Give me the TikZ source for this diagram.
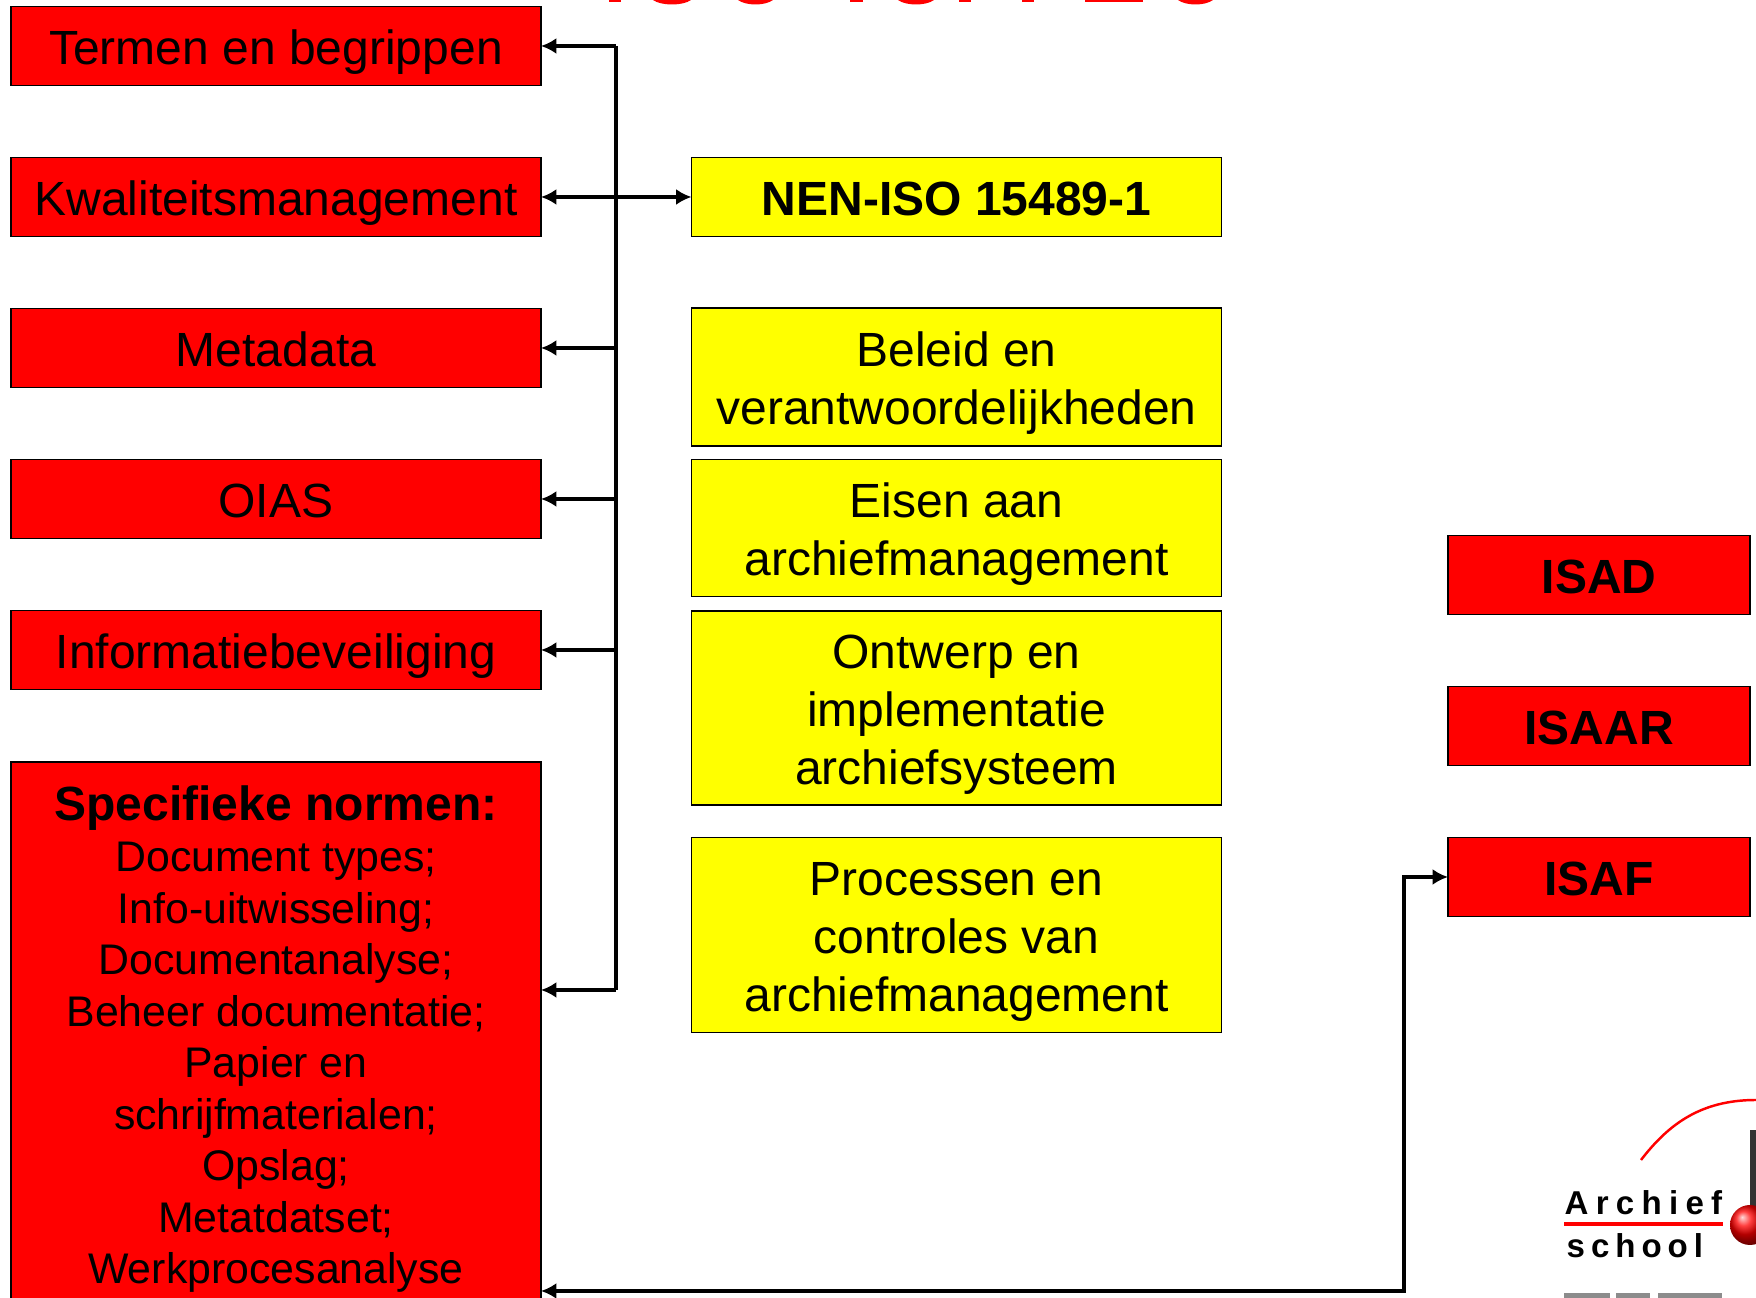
\documentclass[tikz,border=0pt]{standalone}
\usepackage{fontspec}
\usetikzlibrary{arrows.meta}
\setmainfont{Liberation Sans}
\newfontfamily\logofont[LetterSpace=22]{Liberation Sans}
\newfontfamily\schoolfont[LetterSpace=18]{Liberation Sans}
\definecolor{boxyellow}{RGB}{255,255,0}
\definecolor{boxred}{RGB}{255,0,0}
\tikzset{
  boxtip/.tip={Latex[length=4.4pt,width=4.6pt]},
  redbox/.style={draw=black,line width=0.5pt,fill=boxred,outer sep=0pt,inner sep=0pt,minimum width=530*0.01cm,minimum height=79*0.01cm,text height=38*0.01cm,text depth=0pt,align=center,font=\fontsize{13.65}{16.5}\selectfont},
  yellowbox/.style={redbox,fill=boxyellow},
  isabox/.style={redbox,minimum width=302*0.01cm,font=\fontsize{13.65}{16.5}\selectfont\bfseries},
  twolines/.style={text height=96*0.01cm},
  threelines/.style={text height=153*0.01cm},
  link/.style={line width=1.3pt,boxtip-},
  logotext/.style={inner sep=0pt,anchor=base west}
}
\begin{document}
\begin{tikzpicture}[x=0.01cm,y=-0.01cm]
            \clip (0,0) rectangle (1756,1298);
            % title, cut off by the top edge
            \foreach \a/\b in {609/621,850/863,959/971,1022/1034,1085/1143}
                \fill[red] (\a,0) rectangle (\b,2.5);
            \foreach \a/\b in {653/691,738/773,898/934,1178/1213}
                \fill[red] (\a,0) .. controls (\a+8,6) and (\b-8,6) .. (\b,0);
            % left column
            \node[redbox] (termen) at (276,46) {Termen en begrippen};
            \node[redbox] (kwaliteit) at (276,197) {Kwaliteitsmanagement};
            \node[redbox] (metadata) at (276,348) {Metadata};
            \node[redbox] (oias) at (276,499) {OIAS};
            \node[redbox] (beveiliging) at (276,650) {Informatiebeveiliging};
            \node[redbox,anchor=north,inner ysep=20*0.01cm,text height=502*0.01cm,font=\fontsize{12.18}{14.65}\selectfont] (specifiek) at (276,762)
                {\fontsize{13.65}{15}\selectfont\bfseries Specifieke normen:\\Document types;\\Info-uitwisseling;\\Documentanalyse;\\Beheer documentatie;\\Papier en\\schrijfmaterialen;\\Opslag;\\Metatdatset;\\Werkprocesanalyse};
            % middle column
            \node[yellowbox] (nen) at (956.5,197) {\bfseries NEN-ISO 15489-1};
            \node[yellowbox,twolines,minimum height=138*0.01cm] (beleid) at (956.5,377) {Beleid en\\verantwoordelijkheden};
            \node[yellowbox,twolines,minimum height=137*0.01cm] (eisen) at (956.5,528) {Eisen aan\\archiefmanagement};
            \node[yellowbox,threelines,minimum height=194*0.01cm] (ontwerp) at (956.5,708) {Ontwerp en\\implementatie\\archiefsysteem};
            \node[yellowbox,threelines,minimum height=195*0.01cm] (processen) at (956.5,935) {Processen en\\controles van\\archiefmanagement};
            % right column
            \node[isabox] (isad) at (1599,575) {ISAD};
            \node[isabox] (isaar) at (1599,726) {ISAAR};
            \node[isabox] (isaf) at (1599,877) {ISAF};
            % connectors
            \coordinate (trunktop) at (616,46);
            \coordinate (trunkbot) at (616,990);
            \coordinate (underline) at (1404,1291);
            \draw[line width=1.3pt] (trunktop) -- (trunkbot);
            \draw[link] (termen.east) -- (trunktop);
            \draw[link,-boxtip] (kwaliteit.east -| trunktop) -- (nen.west);
            \draw[link] (kwaliteit.east) -- (kwaliteit.east -| trunktop);
            \draw[link] (metadata.east) -- (metadata.east -| trunktop);
            \draw[link] (oias.east) -- (oias.east -| trunktop);
            \draw[link] (beveiliging.east) -- (beveiliging.east -| trunktop);
            \draw[link] (specifiek.east |- trunkbot) -- (trunkbot);
            \draw[link,boxtip-boxtip] (specifiek.east |- underline) -- (underline) |- (isaf.west);
            % logo
            \draw[red,line width=0.7pt] (1641,1160) .. controls (1668,1125) and (1700,1100) .. (1756,1100);
            \node[logotext,font=\fontsize{9.4}{11}\logofont\bfseries] (archief) at (1564,1215) {Archief};
            \node[logotext,font=\fontsize{9.4}{11}\schoolfont\bfseries] (school) at (1566,1258) {school};
            \draw[red,line width=1pt] (archief.base west |- 0,1224) -- (1723,1224);
            \fill[black!80] (1750,1130) rectangle (1756,1206);
            \shade[ball color=red] (1750,1225) circle (20);
            \foreach \a/\b in {1564/1610,1616/1650,1658/1722}
                \fill[black!45] (\a,1293) rectangle (\b,1298);
\end{tikzpicture}
\end{document}
